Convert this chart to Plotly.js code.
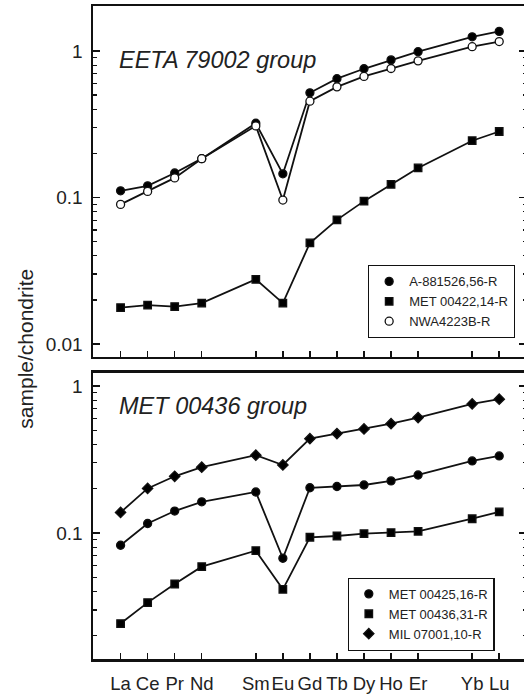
<!DOCTYPE html>
<html>
<head>
<meta charset="utf-8">
<script src="https://cdn.plot.ly/plotly-3.0.1.min.js"></script>
<style>
html,body{margin:0;padding:0;overflow:hidden;background:#fff;}
#chart{width:527px;height:694px;}
</style>
</head>
<body>
<div id="chart"></div>
<script>
// Rare earth elements and their atomic numbers (x positions)
var elements = ['La','Ce','Pr','Nd','Sm','Eu','Gd','Tb','Dy','Ho','Er','Yb','Lu'];
var atomicNumbers = [57,58,59,60,62,63,64,65,66,67,68,70,71];

// EETA 79002 group (sample/chondrite)
var A881526 = [0.111,0.120,0.147,0.184,0.321,0.145,0.518,0.647,0.756,0.869,0.989,1.25,1.36];
var MET00422 = [0.0177,0.0184,0.0180,0.0190,0.0276,0.0190,0.0489,0.0703,0.0944,0.123,0.159,0.244,0.282];
var NWA4223B = [0.0897,0.110,0.136,0.184,0.308,0.096,0.454,0.569,0.670,0.759,0.856,1.07,1.16];

// MET 00436 group (sample/chondrite)
var MET00425 = [0.0825,0.116,0.141,0.163,0.190,0.0673,0.203,0.207,0.212,0.226,0.248,0.309,0.334];
var MET00436 = [0.0242,0.0336,0.0450,0.0590,0.0758,0.0414,0.0935,0.0954,0.0989,0.1005,0.1027,0.125,0.139];
var MIL07001 = [0.138,0.201,0.243,0.280,0.338,0.290,0.438,0.474,0.510,0.554,0.609,0.755,0.812];

var topSeries = [
  {name:'A-881526,56-R', y:A881526, symbol:'circle', fill:'#000', size:8},
  {name:'MET 00422,14-R', y:MET00422, symbol:'square', fill:'#000', size:7.5},
  {name:'NWA4223B-R', y:NWA4223B, symbol:'circle', fill:'#fff', size:8}
];
var botSeries = [
  {name:'MET 00425,16-R', y:MET00425, symbol:'circle', fill:'#000', size:8},
  {name:'MET 00436,31-R', y:MET00436, symbol:'square', fill:'#000', size:7.5},
  {name:'MIL 07001,10-R', y:MIL07001, symbol:'diamond', fill:'#000', size:8}
];

var traces = [];
function addSeries(list, xa, ya, leg){
  list.forEach(function(s){
    traces.push({x:atomicNumbers, y:s.y, xaxis:xa, yaxis:ya, mode:'lines',
      line:{color:'#111', width:1.8}, showlegend:false, hoverinfo:'skip'});
  });
  list.forEach(function(s){
    traces.push({x:atomicNumbers, y:s.y, xaxis:xa, yaxis:ya, mode:'markers', name:s.name,
      legend:leg,
      marker:{symbol:s.symbol, size:s.size, color:s.fill, line:{color:'#111', width:1.3}}});
  });
}
addSeries(topSeries,'x','y','legend');
addSeries(botSeries,'x2','y2','legend2');

var minorTop = [0.02,0.03,0.04,0.05,0.06,0.07,0.08,0.09,0.2,0.3,0.4,0.5,0.6,0.7,0.8,0.9];
var minorBot = [0.02,0.03,0.04,0.05,0.06,0.07,0.08,0.09,0.2,0.3,0.4,0.5,0.6,0.7,0.8,0.9];

var font = 'Liberation Sans, Arial, sans-serif';
function yax(domain, range, tv, tt, minorVals){
  return {domain:domain, type:'log', range:range, tickmode:'array', tickvals:tv, ticktext:tt,
    ticks:'inside', ticklen:7, tickwidth:1.5, tickcolor:'#111',
    minor:{tickmode:'array', tickvals:minorVals, ticks:'inside', ticklen:3.5, tickwidth:1.3, tickcolor:'#111', showgrid:false},
    showline:true, linewidth:2.5, linecolor:'#111', mirror:'ticks', showgrid:false, zeroline:false,
    tickfont:{family:font, size:19, color:'#222'}, ticklabelstandoff:4};
}
function xax(anchor, labels){
  return {anchor:anchor, domain:[0,1], range:[55.98,71.99], tickmode:'array',
    tickvals:atomicNumbers, ticktext:elements, ticks:'inside', ticklen:6, tickwidth:1.5, tickcolor:'#111',
    showticklabels:labels, tickangle:0, showline:true, linewidth:2.5, linecolor:'#111', mirror:true,
    showgrid:false, zeroline:false, tickfont:{family:font, size:18.5, color:'#222'}, ticklabelstandoff:6};
}

var legendStyle = function(x,y){
  return {x:x, y:y, xanchor:'left', yanchor:'top', bgcolor:'#fff', bordercolor:'#111', borderwidth:1.2,
    font:{family:font, size:13, color:'#222'}, itemwidth:30, tracegroupgap:0};
};

var layout = {
  width:527, height:694,
  margin:{l:93, r:1, t:6, b:35},
  paper_bgcolor:'#fff', plot_bgcolor:'#fff',
  showlegend:true,
  xaxis: xax('y', false),
  yaxis: yax([0.4625,1], [-2.089,0.307], [0.01,0.1,1], ['0.01','0.1','1'], minorTop),
  xaxis2: xax('y2', true),
  yaxis2: yax([0,0.438], [-1.857,0.088], [0.1,1], ['0.1','1'], minorBot),
  legend: legendStyle(0.635, 0.603),
  legend2: legendStyle(0.588, 0.1245),
  annotations:[
    {xref:'paper', yref:'paper', x:0.055, y:0.9175, xanchor:'left', yanchor:'middle', showarrow:false,
     text:'<i>EETA 79002 group</i>', font:{family:font, size:23.5, color:'#222'}},
    {xref:'paper', yref:'paper', x:0.055, y:0.3875, xanchor:'left', yanchor:'middle', showarrow:false,
     text:'<i>MET 00436 group</i>', font:{family:font, size:23.5, color:'#222'}},
    {xref:'paper', yref:'paper', x:-0.155, y:0.475, xanchor:'center', yanchor:'middle', showarrow:false,
     textangle:-90, text:'sample/chondrite', font:{family:font, size:21, color:'#222'}}
  ]
};

Plotly.newPlot('chart', traces, layout, {staticPlot:true, displayModeBar:false});
</script>
</body>
</html>
